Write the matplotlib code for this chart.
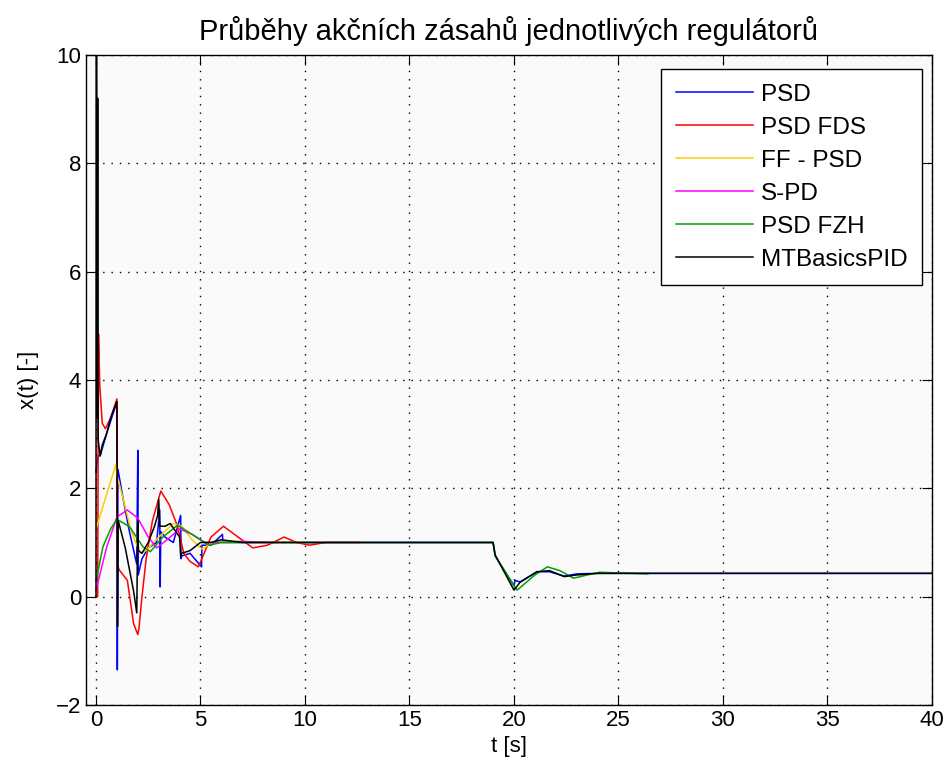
import matplotlib
matplotlib.use("Agg")
import matplotlib.pyplot as plt

# ---- data ----
psd_t = [0, 0.1, 0.2, 0.5, 1.0, 1.02, 1.05, 1.3, 1.6, 1.95, 2.0, 2.02, 2.2, 2.5, 2.9,
         3.05, 3.07, 3.1, 3.3, 3.7, 4.05, 4.07, 4.1, 4.5, 5.05, 5.07, 5.1, 5.5, 6.05,
         6.07, 6.1, 7, 8, 10, 19.0, 19.1, 20.0, 20.05, 20.3, 21.1, 21.7, 22.4, 23.0,
         24, 26, 40]
psd_v = [2.3, 2.6, 2.6, 3.0, 3.6, -1.35, 2.35, 1.8, 1.2, 0.6, 2.7, 0.4, 0.7, 0.9, 1.0,
         1.6, 0.18, 1.2, 1.1, 1.0, 1.5, 0.7, 0.75, 0.8, 0.55, 0.95, 0.95, 0.95, 1.15,
         1.0, 1.0, 1.0, 1.0, 1.0, 1.0, 0.75, 0.2, 0.3, 0.27, 0.46, 0.46, 0.38, 0.42,
         0.43, 0.43, 0.43]

fds_t = [0, 0.08, 0.12, 0.18, 0.3, 0.45, 0.7, 1.0, 1.02, 1.1, 1.5, 1.8, 2.0, 2.05,
         2.2, 2.4, 2.7, 3.1, 3.5, 3.9, 4.2, 4.5, 4.9, 5.5, 6.1, 6.8, 7.5, 8.2, 9.0,
         9.6, 10.2, 11, 12.6]
fds_v = [0, 0, 4.85, 3.9, 3.2, 3.1, 3.3, 3.65, 0.6, 0.5, 0.3, -0.5, -0.7, -0.6,
         0.0, 0.7, 1.4, 1.95, 1.7, 1.3, 0.8, 0.65, 0.55, 1.1, 1.3, 1.1, 0.9, 0.95,
         1.1, 1.0, 0.95, 1.0, 1.0]

ff_t = [0, 0.95, 1.0, 1.3, 1.7, 2.1, 2.4, 3.0, 3.7, 4.1, 4.6, 5.05, 5.6, 6.5, 7.5, 10]
ff_v = [1.25, 2.44, 2.25, 1.8, 1.2, 0.8, 0.85, 1.1, 1.35, 1.3, 1.05, 0.88, 1.0,
        1.03, 1.0, 1.0]

spd_t = [0, 0.5, 1.0, 1.5, 2.0, 2.5, 2.9, 3.4, 4.0, 4.6, 5.2, 6, 7, 8.5]
spd_v = [0.12, 0.9, 1.47, 1.6, 1.45, 1.1, 0.9, 1.05, 1.25, 1.15, 1.0, 1.0, 1.02, 1.0]

fzh_t = [0, 0.33, 0.7, 1.0, 1.6, 2.25, 2.6, 3.2, 3.9, 4.8, 5.4, 6, 8, 10, 19,
         19.1, 20.15, 21.0, 21.6, 22.2, 22.85, 23.5, 24.1, 26.4]
fzh_v = [0.28, 0.92, 1.25, 1.43, 1.29, 0.92, 0.83, 1.1, 1.32, 1.1, 0.95, 1.0, 1.0,
         1.0, 1.0, 0.75, 0.12, 0.4, 0.55, 0.48, 0.34, 0.40, 0.45, 0.42]

mtb_t = [0, 0.01, 0.04, 0.06, 0.08, 0.1, 0.2, 0.3, 0.5, 0.7, 0.9, 1.0, 1.03, 1.06,
         1.1, 1.2, 1.4, 1.6, 1.8, 1.95, 2.0, 2.03, 2.2, 2.5, 2.8, 2.95, 3.0, 3.05,
         3.3, 3.55, 4.0, 4.05, 4.1, 4.5, 5.0, 5.5, 6.0, 7.0, 8.0, 10, 19.0, 19.1,
         20.0, 20.3, 21.1, 21.7, 22.4, 23.0, 24.0, 26, 40]
mtb_v = [0, 15, 9.3, 3.3, 9.2, 2.9, 2.6, 2.8, 3.0, 3.3, 3.5, 3.6, -0.55, 1.4, 1.35,
         1.2, 0.9, 0.5, 0.1, -0.3, 1.4, 0.85, 0.8, 1.0, 1.3, 1.5, 1.8, 1.3, 1.3,
         1.35, 1.1, 0.75, 0.8, 0.85, 1.0, 1.0, 1.05, 1.0, 1.0, 1.0, 1.0, 0.77, 0.12,
         0.27, 0.46, 0.48, 0.37, 0.40, 0.43, 0.43, 0.43]

labels = ["PSD", "PSD FDS", "FF - PSD", "S-PD", "PSD FZH", "MTBasicsPID"]
colors = ["#0000ff", "#ff0000", "#ffcc00", "#ff00ff", "#00a000", "#000000"]

plt.rcParams.update({
    "font.family": ["Liberation Sans", "DejaVu Sans"],
    "font.size": 16,
    "xtick.direction": "in",
    "ytick.direction": "in",
    "xtick.top": True,
    "ytick.right": True,
    "xtick.major.size": 7,
    "ytick.major.size": 7,
    "axes.linewidth": 1.0,
})

fig = plt.figure(figsize=(9.5, 7.72), dpi=100)
ax = fig.add_axes([0.0905, 0.0868, 0.8905, 0.842])
ax.set_facecolor("#fafafa")

series = [(psd_t, psd_v), (fds_t, fds_v), (ff_t, ff_v),
          (spd_t, spd_v), (fzh_t, fzh_v), (mtb_t, mtb_v)]
for (t, v), lab, c in zip(series, labels, colors):
    ax.plot(t, v, color=c, lw=1.1, label=lab)

ax.set_xlim(-0.48, 40)
ax.set_ylim(-2, 10)
ax.set_xticks(range(0, 41, 5))
ax.set_yticks(range(-2, 11, 2))
ax.grid(True, color="black", linestyle=(0, (1, 5)), linewidth=1.0)
ax.set_axisbelow(True)

ax.set_title("Průběhy akčních zásahů jednotlivých regulátorů", fontsize=21, pad=11)
ax.set_xlabel("t [s]", fontsize=16)
ax.set_ylabel("x(t) [-]", fontsize=16, labelpad=12)

leg = ax.legend(loc="upper right", bbox_to_anchor=(0.988, 0.978), borderaxespad=0,
                fancybox=False, edgecolor="black", framealpha=1, fontsize=17.5,
                handlelength=3.2, handletextpad=0.3, labelspacing=0.45,
                borderpad=0.6)
leg.get_frame().set_linewidth(1.0)

fig.savefig("out.png", dpi=100)
